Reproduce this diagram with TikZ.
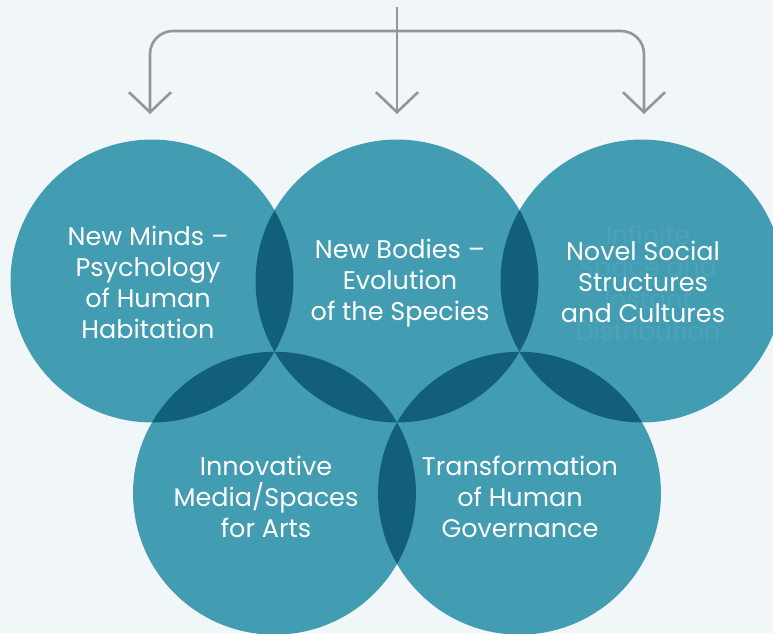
\documentclass[tikz,border=0pt]{standalone}
\usepackage{fontspec}
\setmainfont{Poppins}
\usetikzlibrary{arrows.meta}
\definecolor{bg}{HTML}{F1F6F9}
\definecolor{tealc}{HTML}{429CB2}
\definecolor{deep}{HTML}{115F7A}
\definecolor{ghost}{HTML}{4CA3B8}
\definecolor{arrowgray}{HTML}{939598}
\begin{document}
\begin{tikzpicture}[x=1pt,y=-1pt,
  disc/.style={fill=tealc},
  lens/.style={fill=deep},
  lbl/.style={text=white, align=center, font=\fontsize{25.5}{31}\selectfont, inner sep=0pt},
  ghostlbl/.style={text=ghost, align=center, font=\fontsize{25.5}{32}\selectfont, inner sep=0pt},
  conn/.style={draw=arrowgray, line width=2.6pt, rounded corners=23pt, -{Straight Barb[length=20pt,width=42pt]}},
]
\useasboundingbox (0,0) rectangle (773,633);
\clip (0,0) rectangle (773,633);
\fill[bg] (0,0) rectangle (773,633);

% circle centres
\coordinate (T1) at (152,281);
\coordinate (T2) at (397,281);
\coordinate (T3) at (642,281);
\coordinate (B1) at (274.5,493.2);
\coordinate (B2) at (519.5,493.2);
\def\R{141.45pt}

\foreach \c in {T1,T2,T3,B1,B2}{\fill[disc] (\c) circle[radius=\R];}
\foreach \a/\b in {T1/T2,T2/T3,T1/B1,T2/B1,T2/B2,T3/B2,B1/B2}{
  \begin{scope}
    \clip (\a) circle[radius=\R];
    \fill[lens] (\b) circle[radius=\R];
  \end{scope}
}

% connectors
\coordinate (src) at (397,7);
\coordinate (hub) at (397,31);
\coordinate (tipL) at (150,114);
\coordinate (tipM) at (397,114);
\coordinate (tipR) at (644,114);
\draw[conn] (src) -- (tipM);
\draw[conn] (hub) -| (tipL);
\draw[conn] (hub) -| (tipR);

% labels
\node[ghostlbl] (ghost) at (648,283) {Infinite\\Space and\\Instant\\Distribution};
\node[lbl] (minds) at (148,282) {New Minds –\\Psychology\\of Human\\Habitation};
\node[lbl] (bodies) at (400,283) {New Bodies –\\Evolution\\of the Species};
\node[lbl] (social) at (643,282) {Novel Social\\Structures\\and Cultures};
\node[lbl] (arts) at (266,497) {Innovative\\Media/Spaces\\for Arts};
\node[lbl] (gov) at (520,497) {Transformation\\of Human\\Governance};
\end{tikzpicture}
\end{document}
